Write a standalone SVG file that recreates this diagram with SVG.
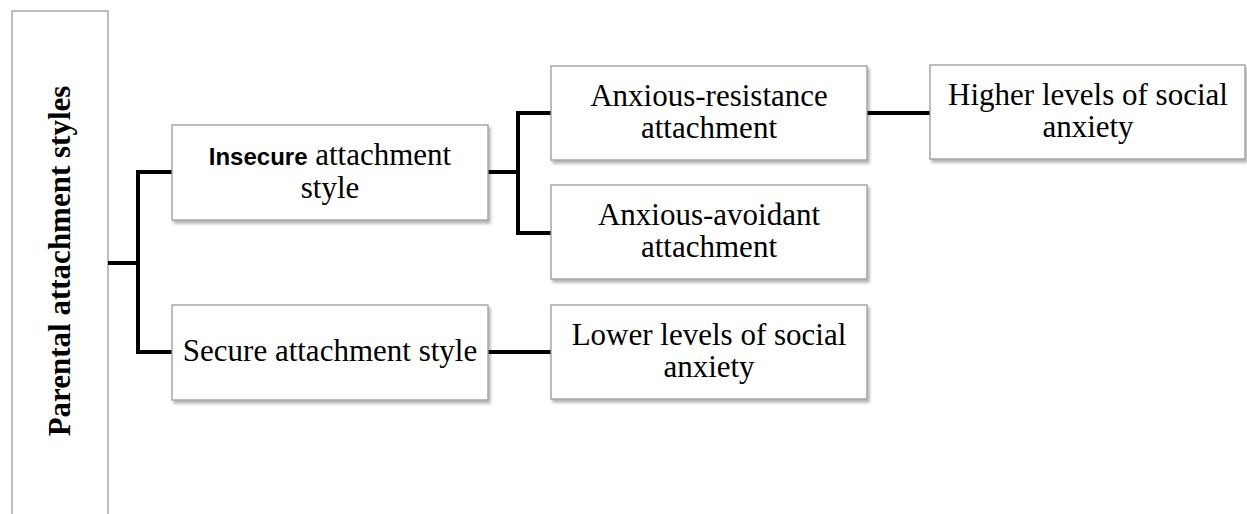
<svg xmlns="http://www.w3.org/2000/svg" width="1247" height="514" viewBox="0 0 1247 514">
<style>
.box{fill:#fff;stroke:#9a9a9a;stroke-width:1.3;}
.sh{filter:url(#ds);}
.t{font-family:"Liberation Serif","Times New Roman",serif;font-size:31px;fill:#000;text-anchor:middle;}
.b{font-family:"Liberation Sans",Arial,sans-serif;font-size:24px;font-weight:bold;}
.c{fill:none;stroke:#000;stroke-width:4;stroke-linejoin:miter;stroke-linecap:butt;}
</style>
<defs>
<filter id="ds" x="-5%" y="-10%" width="115%" height="130%">
<feDropShadow dx="2" dy="3" stdDeviation="1.5" flood-color="#000" flood-opacity="0.3"/>
</filter>
</defs>
<g id="root">
<rect class="box" x="12" y="11" width="96" height="520"/>
<text class="t" font-weight="bold" transform="translate(70,261) rotate(-90)">Parental attachment styles</text>
</g>
<g id="connectors">
<path class="c" d="M108 263 H138"/>
<path class="c" d="M172 172 H138 V352 H172"/>
<path class="c" d="M488 172 H518"/>
<path class="c" d="M551 113 H518 V233 H551"/>
<path class="c" d="M867 113 H930"/>
<path class="c" d="M488 352 H551"/>
</g>
<g id="insecure">
<rect class="box sh" x="172" y="125" width="316" height="95"/>
<text class="t" x="330" y="165"><tspan class="b">Insecure</tspan> attachment</text>
<text class="t" x="330" y="198">style</text>
</g>
<g id="secure">
<rect class="box sh" x="172" y="305" width="316" height="95"/>
<text class="t" x="330" y="361">Secure attachment style</text>
</g>
<g id="resistance">
<rect class="box sh" x="551" y="66" width="316" height="94"/>
<text class="t" x="709" y="106">Anxious-resistance</text>
<text class="t" x="709" y="138">attachment</text>
</g>
<g id="avoidant">
<rect class="box sh" x="551" y="185" width="316" height="94"/>
<text class="t" x="709" y="225">Anxious-avoidant</text>
<text class="t" x="709" y="257">attachment</text>
</g>
<g id="higher">
<rect class="box sh" x="930" y="65" width="315" height="94"/>
<text class="t" x="1088" y="105">Higher levels of social</text>
<text class="t" x="1088" y="137">anxiety</text>
</g>
<g id="lower">
<rect class="box sh" x="551" y="305" width="316" height="94"/>
<text class="t" x="709" y="345">Lower levels of social</text>
<text class="t" x="709" y="377">anxiety</text>
</g>
</svg>
